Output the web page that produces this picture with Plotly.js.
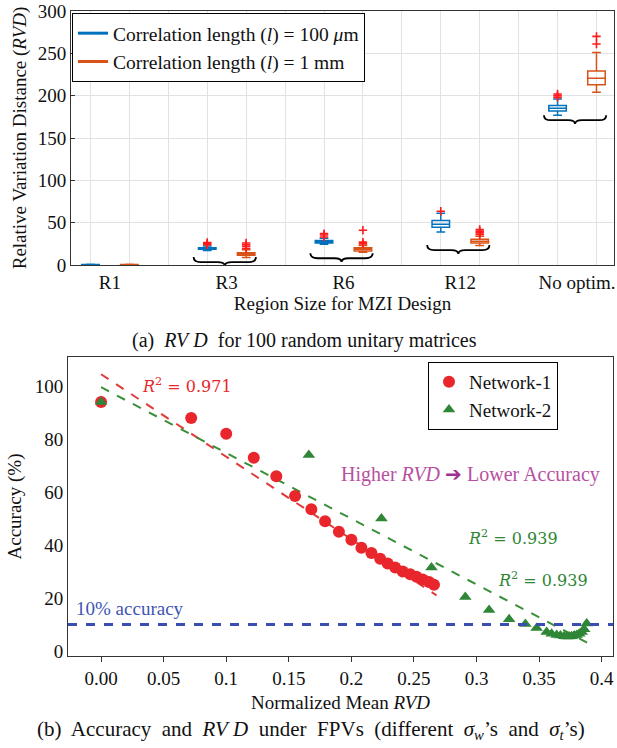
<!DOCTYPE html>
<html>
<head>
<meta charset="utf-8">
<script src="https://cdn.plot.ly/plotly-3.0.1.min.js"></script>
<style>html,body{margin:0;padding:0;background:#fff;}#chart{width:617px;height:748px;}</style>
</head>
<body>
<div id="chart"></div>
<script>
// ---------- Data: panel (a) box plots ----------
const categories = ['R1', 'R3', 'R6', 'R12', 'No optim.'];
// l = 100 um (blue)
const blueLower = [0, 17, 24.5, 39, 177];
const blueQ1    = [0, 18.5, 26, 44.5, 182];
const blueMed   = [0.3, 19.5, 27.5, 48, 185];
const blueQ3    = [0.6, 20.5, 29, 52.5, 188.5];
const blueUpper = [1, 22.5, 31.5, 61, 196];
const blueOutliers = [[], [24, 25.5, 26.5], [33, 35.5, 37], [63.5], [198, 200, 202]];
// l = 1 mm (orange)
const orangeLower = [0, 9, 15, 23, 204];
const orangeQ1    = [0, 11.5, 16.5, 26, 213];
const orangeMed   = [0.3, 13, 18.5, 28, 220.5];
const orangeQ3    = [0.6, 14.5, 20.5, 30.5, 229];
const orangeUpper = [1, 18, 23, 34, 251];
const orangeOutliers = [[], [19.5, 22, 24, 26], [25, 27, 41], [36, 38, 40, 42], [261, 270]];
const seriesNames = ['Correlation length (<i>l</i>) = 100 <i>μ</i>m', 'Correlation length (<i>l</i>) = 1 mm'];

// ---------- Data: panel (b) scatter ----------
const net1X = [0, 0.072, 0.1, 0.122, 0.14, 0.155, 0.168, 0.179, 0.19, 0.2, 0.208, 0.216, 0.223, 0.229, 0.235, 0.241, 0.247, 0.252, 0.257, 0.262, 0.266];
const net1Y = [94, 88, 82, 73, 66, 58.5, 53.5, 49, 45, 42, 39, 37, 34.8, 33, 31.5, 30, 29, 28, 27, 26, 25];
const net2X = [0, 0.166, 0.224, 0.264, 0.291, 0.31, 0.326, 0.339, 0.348, 0.356, 0.360, 0.364, 0.367, 0.370, 0.372, 0.374, 0.376, 0.378, 0.380, 0.382, 0.384, 0.386, 0.388];
const net2Y = [94, 74, 50, 31.5, 20.4, 15.5, 12, 10.2, 8.7, 7.2, 6.5, 6.0, 5.8, 5.6, 5.5, 5.5, 5.6, 5.8, 6.0, 6.5, 7.2, 8.2, 10.4];
const fit1X = [0, 0.268];
const fit1Y = [104.5, 21];
const fit2X = [0, 0.389];
const fit2Y = [99.6, 3];
const threshold = 10;
const xTickVals = [0, 0.05, 0.1, 0.15, 0.2, 0.25, 0.3, 0.35, 0.4];
const xTickText = ['0.00', '0.05', '0.1', '0.15', '0.2', '0.25', '0.3', '0.35', '0.4'];

// ---------- Build ----------
const SERIF = 'Liberation Serif';
const BLUE = '#0072BD', ORANGE = '#D95319', OUT = '#ff1a1a';
const bluePos = categories.map((c, i) => i * 3 + 1);
const orangePos = categories.map((c, i) => i * 3 + 2);
const catCenters = categories.map((c, i) => i * 3 + 1.5);

function boxTrace(pos, lo, q1, med, q3, hi, color) {
  return {
    type: 'box', x: pos, q1: q1, median: med, q3: q3, lowerfence: lo, upperfence: hi,
    xaxis: 'x', yaxis: 'y', width: 0.45, whiskerwidth: 0.5, boxpoints: false,
    line: {color: color, width: 1.5}, fillcolor: 'rgba(0,0,0,0)', showlegend: false, hoverinfo: 'skip'
  };
}
function outlierTrace(pos, outs) {
  const xs = [], ys = [];
  outs.forEach((arr, i) => arr.forEach(v => { xs.push(pos[i]); ys.push(v); }));
  return {type: 'scatter', mode: 'markers', x: xs, y: ys, xaxis: 'x', yaxis: 'y', showlegend: false,
    marker: {symbol: 'cross-thin-open', size: 6, color: OUT, line: {color: OUT, width: 1.6}}, hoverinfo: 'skip'};
}

const traces = [
  boxTrace(bluePos, blueLower, blueQ1, blueMed, blueQ3, blueUpper, BLUE),
  boxTrace(orangePos, orangeLower, orangeQ1, orangeMed, orangeQ3, orangeUpper, ORANGE),
  outlierTrace(bluePos, blueOutliers),
  outlierTrace(orangePos, orangeOutliers),
  {type: 'scatter', mode: 'lines', x: [null], y: [null], xaxis: 'x', yaxis: 'y', name: seriesNames[0],
    line: {color: BLUE, width: 3}, legend: 'legend'},
  {type: 'scatter', mode: 'lines', x: [null], y: [null], xaxis: 'x', yaxis: 'y', name: seriesNames[1],
    line: {color: ORANGE, width: 3}, legend: 'legend'},
  // panel b
  {type: 'scatter', mode: 'lines', x: fit1X, y: fit1Y, xaxis: 'x2', yaxis: 'y2', showlegend: false,
    line: {color: '#e03a3a', width: 2, dash: 'dash'}},
  {type: 'scatter', mode: 'lines', x: fit2X, y: fit2Y, xaxis: 'x2', yaxis: 'y2', showlegend: false,
    line: {color: '#3a8f3a', width: 2, dash: 'dash'}},
  {type: 'scatter', mode: 'markers', x: net1X, y: net1Y, xaxis: 'x2', yaxis: 'y2', name: 'Network-1',
    marker: {symbol: 'circle', size: 12, color: '#e8262b'}, legend: 'legend2'},
  {type: 'scatter', mode: 'markers', x: net2X, y: net2Y, xaxis: 'x2', yaxis: 'y2', name: 'Network-2',
    marker: {symbol: 'triangle-up', size: 11, color: '#2e8636'}, legend: 'legend2'}
];

// braces under each category pair
const braceTop = [null, 9.5, 14, 23.5, 177];
const shapes = [];
categories.forEach((c, i) => {
  if (braceTop[i] === null) return;
  const x0 = bluePos[i] - 0.35, x1 = orangePos[i] + 0.25, xm = (x0 + x1) / 2;
  const yt = braceTop[i], yb = yt - 6, ytip = yt - 10.5, dx = 0.18;
  shapes.push({type: 'path', xref: 'x', yref: 'y', line: {color: '#000', width: 1.8},
    path: `M ${x0},${yt} Q ${x0},${yb} ${x0 + dx},${yb} L ${xm - dx},${yb} Q ${xm},${yb} ${xm},${ytip} ` +
          `Q ${xm},${yb} ${xm + dx},${yb} L ${x1 - dx},${yb} Q ${x1},${yb} ${x1},${yt}`});
});
shapes.push({type: 'line', xref: 'x2 domain', yref: 'y2', x0: 0, x1: 1, y0: threshold, y1: threshold,
  line: {color: '#3a4db0', width: 3, dash: 'dash'}});

const annotations = [
  {xref: 'paper', yref: 'paper', x: 304 / 617, y: 1 - 341 / 748, xanchor: 'center', yanchor: 'middle',
    text: '(a)&nbsp; <i>RV&nbsp;D</i>&nbsp; for 100 random unitary matrices',
    showarrow: false, font: {family: SERIF, size: 20, color: '#111'}},
  {xref: 'paper', yref: 'paper', x: 311 / 617, y: 1 - 730 / 748, xanchor: 'center', yanchor: 'middle',
    text: '(b)&nbsp; Accuracy&nbsp; and&nbsp; <i>RV&nbsp;D</i>&nbsp; under&nbsp; FPVs&nbsp; (different&nbsp; <i>σ<sub>w</sub></i>’s&nbsp; and&nbsp; <i>σ<sub>t</sub></i>’s)',
    showarrow: false, font: {family: SERIF, size: 21, color: '#111'}},
  {xref: 'x2', yref: 'y2', x: 0.069, y: 100.4, text: '<i>R</i><sup>2</sup> = 0.971', showarrow: false,
    font: {family: 'DejaVu Serif', size: 16, color: '#e8262b'}},
  {xref: 'x2', yref: 'y2', x: 0.329, y: 43, text: '<i>R</i><sup>2</sup> = 0.939', showarrow: false,
    font: {family: 'DejaVu Serif', size: 16, color: '#2e8636'}},
  {xref: 'x2', yref: 'y2', x: 0.353, y: 26.8, text: '<i>R</i><sup>2</sup> = 0.939', showarrow: false,
    font: {family: 'DejaVu Serif', size: 16, color: '#2e8636'}},
  {xref: 'x2', yref: 'y2', x: 0.2955, y: 66.8, text: 'Higher <i>RVD</i> <span style="color:#a0308f">➔</span> Lower Accuracy', showarrow: false,
    font: {family: SERIF, size: 20, color: '#b9509f'}},
  {xref: 'x2', yref: 'y2', x: 0.023, y: 16.2, text: '10% accuracy', showarrow: false,
    font: {family: SERIF, size: 19, color: '#3f55b3'}}
];

const axisCommon = {showline: true, linecolor: '#333', linewidth: 1, mirror: true, zeroline: false,
  tickfont: {family: SERIF, size: 19, color: '#111'}};

const layout = {
  width: 617, height: 748, margin: {l: 0, r: 0, t: 0, b: 0},
  paper_bgcolor: '#fff', plot_bgcolor: '#fff',
  font: {family: SERIF, color: '#111'},
  xaxis: Object.assign({}, axisCommon, {
    domain: [71 / 617, 614 / 617], anchor: 'y', range: [0.5, 14.45],
    tickmode: 'array', tickvals: catCenters, ticktext: categories, ticks: '', showgrid: false,
    minor: {tick0: 0, dtick: 1, showgrid: true, gridcolor: '#e2e2e2', gridwidth: 1, ticks: ''},
    title: {text: 'Region Size for MZI Design', font: {family: SERIF, size: 19}, standoff: 0}
  }),
  yaxis: Object.assign({}, axisCommon, {
    domain: [1 - 265 / 748, 1 - 11 / 748], anchor: 'x', range: [0, 300], dtick: 50,
    showgrid: true, gridcolor: '#e2e2e2', ticks: 'inside', ticklen: 4, tickcolor: '#333',
    title: {text: 'Relative Variation Distance (<i>RVD</i>)', font: {family: SERIF, size: 19}, standoff: 6}
  }),
  xaxis2: Object.assign({}, axisCommon, {
    domain: [68 / 617, 613 / 617], anchor: 'y2', range: [-0.0264, 0.409],
    tickmode: 'array', tickvals: xTickVals, ticktext: xTickText, ticks: 'outside', ticklen: 5, tickcolor: '#333',
    showgrid: false,
    title: {text: 'Normalized Mean <i>RVD</i>', font: {family: SERIF, size: 19}, standoff: 7}
  }),
  yaxis2: Object.assign({}, axisCommon, {
    domain: [1 - 656 / 748, 1 - 357 / 748], anchor: 'x2', range: [-1.9, 111],
    tickmode: 'array', tickvals: [0, 20, 40, 60, 80, 100], showgrid: false, ticks: '',
    title: {text: 'Accuracy (%)', font: {family: SERIF, size: 19}, standoff: 8}
  }),
  legend: {x: 72 / 617, y: 1 - 13 / 748, xanchor: 'left', yanchor: 'top', bgcolor: '#fff',
    bordercolor: '#000', borderwidth: 1, font: {family: SERIF, size: 19.5, color: '#111'}, tracegroupgap: 0},
  legend2: {x: 428 / 617, y: 1 - 362 / 748, xanchor: 'left', yanchor: 'top', bgcolor: '#fff',
    bordercolor: '#000', borderwidth: 1, font: {family: SERIF, size: 19, color: '#111'}, tracegroupgap: 2},
  shapes: shapes,
  annotations: annotations,
  showlegend: true
};

Plotly.newPlot('chart', traces, layout, {staticPlot: true, displayModeBar: false});
</script>
</body>
</html>
